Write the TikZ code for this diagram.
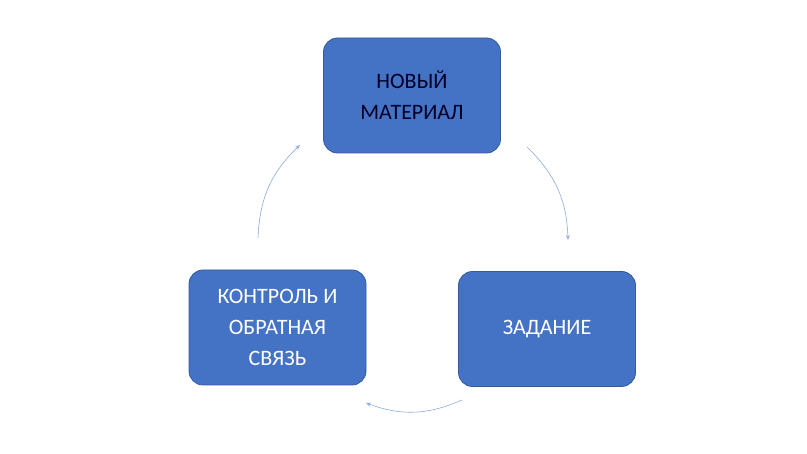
\documentclass[tikz,border=0pt]{standalone}
\usepackage{fontspec}
\setmainfont{Carlito}
\usetikzlibrary{arrows.meta}
\begin{document}
\begin{tikzpicture}[x=1pt,y=1pt,
  box/.style={draw=#1!80!black,fill=#1,rounded corners=14pt,minimum width=177pt,minimum height=115pt,font=\fontsize{22}{31}\selectfont,align=center,line width=0.8pt},
  link/.style={draw=arrowc,line width=0.6pt,-{Stealth[length=5pt,width=4pt,open]},bend left=22}]
\definecolor{boxc}{HTML}{4472C4}
\definecolor{arrowc}{HTML}{8FAADC}
\fill[white] (0,0) rectangle (807,454);
\node[box=boxc,text=black!85!blue] (t) at (412,358.5) {НОВЫЙ\\МАТЕРИАЛ};
\node[box=boxc,text=white] (r) at (547,125) {ЗАДАНИЕ};
\node[box=boxc,text=white] (l) at (277.5,126.5) {КОНТРОЛЬ И\\ОБРАТНАЯ\\СВЯЗЬ};
\coordinate (a1) at (527,307); \coordinate (a2) at (568,214);
\coordinate (b1) at (462,54); \coordinate (b2) at (366,51);
\coordinate (c1) at (258,216); \coordinate (c2) at (300,309);
\draw[link] (a1) to (a2);
\draw[link] (b1) to (b2);
\draw[link] (c1) to (c2);
\end{tikzpicture}
\end{document}
